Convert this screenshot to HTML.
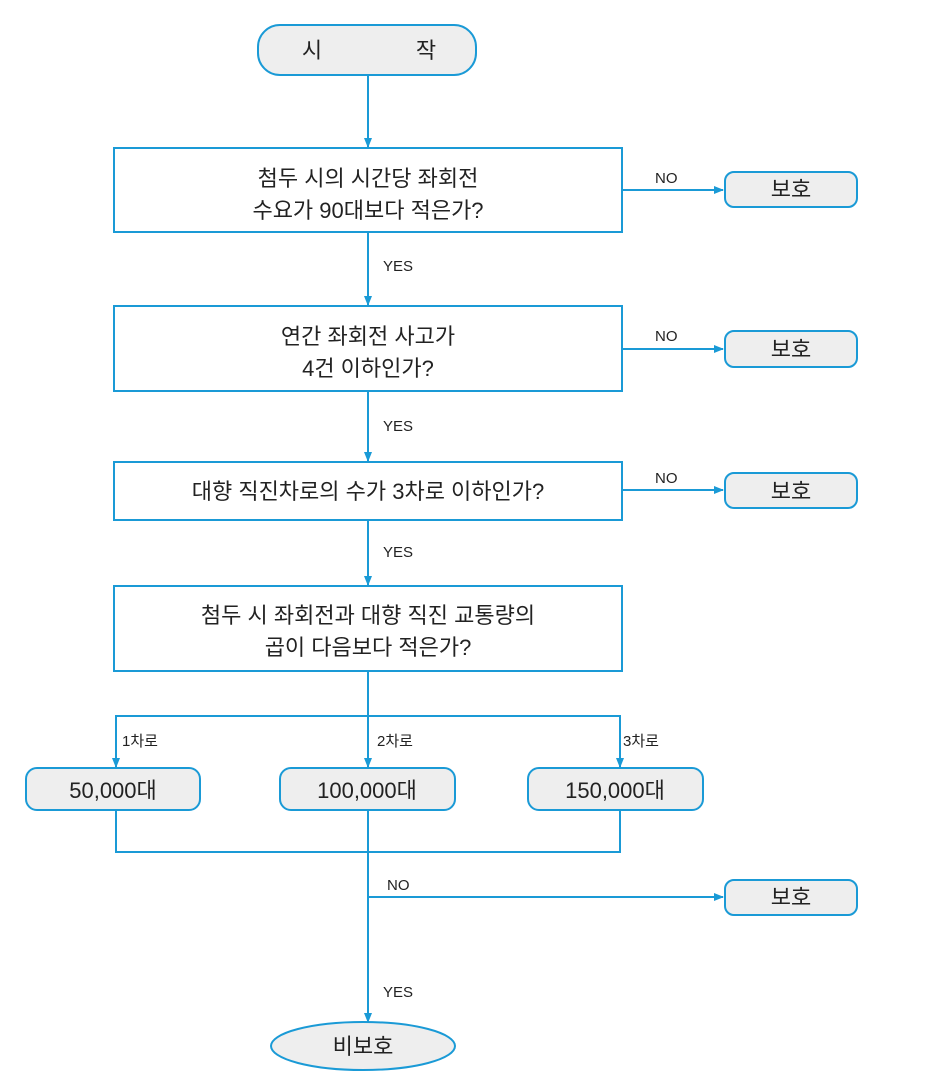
<!DOCTYPE html>
<html><head><meta charset="utf-8"><style>
body{margin:0;background:#fff}
text{font-family:"Liberation Sans","Noto Sans CJK KR",sans-serif;fill:#222}
</style></head><body>
<svg width="944" height="1082" viewBox="0 0 944 1082" xmlns="http://www.w3.org/2000/svg">
<defs><marker id="a" markerWidth="10" markerHeight="10" refX="9" refY="5" orient="auto" markerUnits="userSpaceOnUse"><path d="M0,1 L10,5 L0,9 z" fill="#1a9ad6"/></marker></defs>
<g stroke="#1a9ad6" stroke-width="2" fill="none">
<rect x="258" y="25" width="218" height="50" rx="22" fill="#eeeeee"/>
<line x1="368" y1="75" x2="368" y2="147" marker-end="url(#a)"/>
<rect x="114" y="148" width="508" height="84" fill="#fff"/>
<line x1="368" y1="232" x2="368" y2="305" marker-end="url(#a)"/>
<rect x="114" y="306" width="508" height="85" fill="#fff"/>
<line x1="368" y1="391" x2="368" y2="461" marker-end="url(#a)"/>
<rect x="114" y="462" width="508" height="58" fill="#fff"/>
<line x1="368" y1="520" x2="368" y2="585" marker-end="url(#a)"/>
<rect x="114" y="586" width="508" height="85" fill="#fff"/>
<line x1="622" y1="190" x2="723" y2="190" marker-end="url(#a)"/>
<line x1="622" y1="349" x2="723" y2="349" marker-end="url(#a)"/>
<line x1="622" y1="490" x2="723" y2="490" marker-end="url(#a)"/>
<rect x="725" y="172" width="132" height="35" rx="9" fill="#eeeeee"/>
<rect x="725" y="331" width="132" height="36" rx="9" fill="#eeeeee"/>
<rect x="725" y="473" width="132" height="35" rx="9" fill="#eeeeee"/>
<rect x="725" y="880" width="132" height="35" rx="9" fill="#eeeeee"/>
<line x1="368" y1="671" x2="368" y2="767" marker-end="url(#a)"/>
<polyline points="116,767 116,716 620,716 620,767"/>
<line x1="116" y1="760" x2="116" y2="767" marker-end="url(#a)"/>
<line x1="620" y1="760" x2="620" y2="767" marker-end="url(#a)"/>
<rect x="26" y="768" width="174" height="42" rx="11" fill="#eeeeee"/>
<rect x="280" y="768" width="175" height="42" rx="11" fill="#eeeeee"/>
<rect x="528" y="768" width="175" height="42" rx="11" fill="#eeeeee"/>
<polyline points="116,810 116,852 620,852 620,810"/>
<line x1="368" y1="810" x2="368" y2="1022" marker-end="url(#a)"/>
<line x1="368" y1="897" x2="723" y2="897" marker-end="url(#a)"/>
<ellipse cx="363" cy="1046" rx="92" ry="24" fill="#eeeeee"/>
</g>
<g font-size="22" text-anchor="middle">
<text x="312" y="58">시</text><text x="426" y="58">작</text>
<text x="368" y="186">첨두 시의 시간당 좌회전</text>
<text x="368" y="218">수요가 90대보다 적은가?</text>
<text x="368" y="344">연간 좌회전 사고가</text>
<text x="368" y="376">4건 이하인가?</text>
<text x="368" y="499">대향 직진차로의 수가 3차로 이하인가?</text>
<text x="368" y="623">첨두 시 좌회전과 대향 직진 교통량의</text>
<text x="368" y="655">곱이 다음보다 적은가?</text>
<text x="791" y="197">보호</text><text x="791" y="357">보호</text>
<text x="791" y="499">보호</text><text x="791" y="905">보호</text>
<text x="113" y="798">50,000대</text><text x="367" y="798">100,000대</text>
<text x="615" y="798">150,000대</text>
<text x="363" y="1054">비보호</text>
</g>
<g font-size="15">
<text x="655" y="183">NO</text><text x="655" y="341">NO</text><text x="655" y="483">NO</text>
<text x="387" y="890">NO</text>
<text x="383" y="271">YES</text><text x="383" y="431">YES</text><text x="383" y="557">YES</text>
<text x="383" y="997">YES</text>
<text x="122" y="746">1차로</text><text x="377" y="746">2차로</text><text x="623" y="746">3차로</text>
</g>
</svg>
</body></html>
